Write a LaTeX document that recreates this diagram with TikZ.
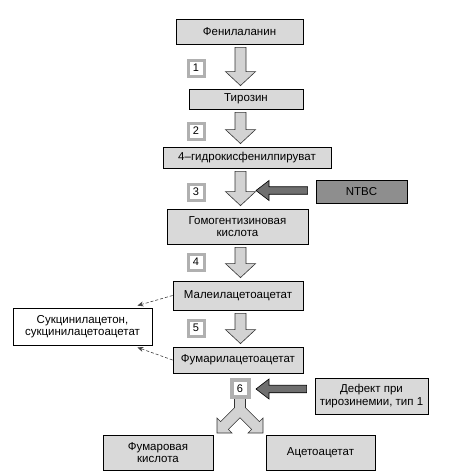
\documentclass[tikz,border=0pt]{standalone}
\usepackage{fontspec}
\setmainfont{Liberation Sans}
\usetikzlibrary{arrows.meta,calc}

\definecolor{boxgray}{HTML}{D9D9D9}
\definecolor{arrowgray}{HTML}{D3D3D3}
\definecolor{blockgray}{HTML}{8E8E8E}
\definecolor{pushgray}{HTML}{6F6F6F}
\definecolor{framegray}{HTML}{B0B0B0}

\newcommand{\stepArrow}[2]{%
  \filldraw[steparrow] let \p1=(#1.south), \p2=(#2.north), \p3=(axis) in
    (\x3-5.5pt,\y1-3pt) -- (\x3+5.5pt,\y1-3pt) -- (\x3+5.5pt,\y2+17pt) -- (\x3+15pt,\y2+17pt)
    -- (\x3,\y2+3pt) -- (\x3-15pt,\y2+17pt) -- (\x3-5.5pt,\y2+17pt) -- cycle;}
\newcommand{\pushArrow}[2]{%
  \filldraw[pusharrow] let \p1=(#1.west), \p2=(#2) in
    (\x1-8pt,\y2+3.75pt) -- (\x2+13pt,\y2+3.75pt) -- (\x2+13pt,\y2+10pt) -- (\x2,\y2)
    -- (\x2+13pt,\y2-10pt) -- (\x2+13pt,\y2-3.75pt) -- (\x1-8pt,\y2-3.75pt) -- cycle;}

\begin{document}
\begin{tikzpicture}[x=1pt,y=-1pt,
  stage/.style={draw, fill=boxgray, line width=0.8pt, inner sep=2pt, align=center, font=\fontsize{11.5}{12.5}\selectfont},
  numbox/.style={draw=framegray, line width=3pt, fill=white, minimum size=16pt, inner sep=0pt, font=\fontsize{11}{12}\selectfont},
  steparrow/.style={fill=arrowgray, draw=black!80, line width=0.6pt, line join=miter},
  pusharrow/.style={fill=pushgray, draw=black, line width=0.6pt, line join=miter},
  sidepath/.style={draw=black!75, dash pattern=on 3pt off 2pt, line width=0.6pt, -{Stealth[length=6pt,width=5pt]}}]
\useasboundingbox (0,0) rectangle (452,475);
\coordinate (axis) at (240.5,0);
\node[stage, minimum width=127pt, minimum height=25pt] (phe) at (239.5,31.5) {Фенилаланин};
\node[stage, minimum width=114pt, minimum height=20pt] (tyr) at (246,99) {Тирозин};
\node[stage, minimum width=168pt, minimum height=21pt] (hpp) at (247,157.5) {4–гидрокисфенилпируват};
\node[stage, minimum width=141pt, minimum height=35pt] (hga) at (237.5,226.5) {Гомогентизиновая\\кислота};
\node[stage, minimum width=130pt, minimum height=29pt] (maa) at (238,295.5) {Малеилацетоацетат};
\node[stage, minimum width=130pt, minimum height=26pt] (faa) at (238,360) {Фумарилацетоацетат};
\node[stage, minimum width=110pt, minimum height=35pt] (fum) at (158,452.5) {Фумаровая\\кислота};
\node[stage, minimum width=109pt, minimum height=35pt] (aca) at (320.5,452.5) {Ацетоацетат};
\node[stage, fill=blockgray, minimum width=91pt, minimum height=23pt] (ntbc) at (361.5,191.5) {NTBC};
\node[stage, minimum width=113pt, minimum height=36pt] (defect) at (371.5,396) {Дефект при\\тирозинемии, тип 1};
\node[stage, fill=white, minimum width=139pt, minimum height=37pt] (suc) at (82.5,326.5) {Сукцинилацетон,\\сукцинилацетоацетат};
\node[numbox] (n1) at (196,68) {1};
\node[numbox] (n2) at (196,131) {2};
\node[numbox] (n3) at (196,192) {3};
\node[numbox] (n4) at (196,262) {4};
\node[numbox] (n5) at (196,328) {5};
\node[numbox, line width=4pt, minimum size=17pt] (n6) at (240,388.5) {6};
\coordinate (ntbcTip) at (256,190.5);
\coordinate (defTip) at (256,389);
\stepArrow{phe}{tyr}
\stepArrow{tyr}{hpp}
\stepArrow{hpp}{hga}
\stepArrow{hga}{maa}
\stepArrow{maa}{faa}
\pushArrow{ntbc}{ntbcTip}
\pushArrow{defect}{defTip}
\filldraw[steparrow, shift={(n6.south)}] (-5.5,0) -- (-5.5,8.7) -- (-19.4,22.6) -- (-23,19) -- (-23,34) -- (-8,34) -- (-11.6,30.4) -- (0,18.8) -- (11.6,30.4) -- (8,34) -- (23,34) -- (23,19) -- (19.4,22.6) -- (5.5,8.7) -- (5.5,0);
\draw[sidepath] (maa.west) -- ([xshift=-15pt,yshift=2pt]suc.north east);
\draw[sidepath] (faa.west) -- ([xshift=-15pt,yshift=-2pt]suc.south east);
\end{tikzpicture}
\end{document}
